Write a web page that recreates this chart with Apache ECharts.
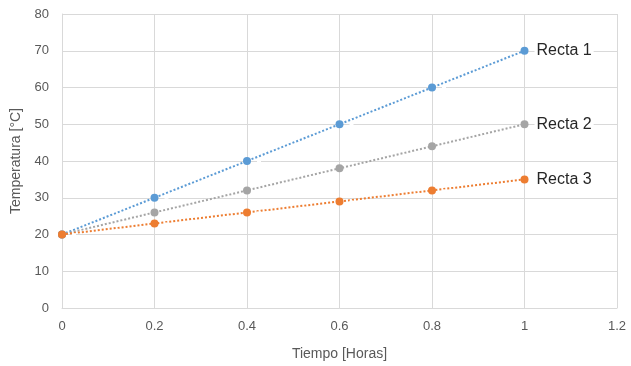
<!DOCTYPE html>
<html>
<head>
<meta charset="utf-8">
<script src="https://cdn.jsdelivr.net/npm/echarts@6/dist/echarts.min.js"></script>
<style>
  html, body { margin: 0; padding: 0; background: #fff; }
  #chart { width: 631px; height: 366px; }
</style>
</head>
<body>
<div id="chart"></div>
<script>
// Time in hours and temperature readings for each line
const tiempo = [0, 0.2, 0.4, 0.6, 0.8, 1];
const recta1 = [20, 30, 40, 50, 60, 70];
const recta2 = [20, 26, 32, 38, 44, 50];
const recta3 = [20, 23, 26, 29, 32, 35];
const seriesNames = ['Recta 1', 'Recta 2', 'Recta 3'];
const seriesColors = ['#5B9BD5', '#A5A5A5', '#ED7D31'];

const chart = echarts.init(document.getElementById('chart'));

function makeSeries(name, values, color) {
  const last = values.length - 1;
  return {
    name: name,
    type: 'line',
    data: values.map((v, i) => [tiempo[i], v]),
    symbol: 'circle',
    symbolSize: 8,
    itemStyle: { color: color },
    lineStyle: { color: color, width: 2, type: [2, 2] },
    z: 3,
    label: {
      show: true,
      position: 'right',
      distance: 6,
      formatter: (p) => (p.dataIndex === last ? name : ''),
      color: '#262626',
      fontFamily: '"Liberation Sans", Arial, sans-serif',
      fontSize: 16,
      backgroundColor: '#fff',
      padding: [1, 2]
    }
  };
}

chart.setOption({
  animation: false,
  textStyle: { fontFamily: '"Liberation Sans", Arial, sans-serif' },
  grid: { left: 62, right: 14, top: 14, bottom: 57, containLabel: false },
  xAxis: {
    type: 'value',
    min: 0,
    max: 1.2,
    interval: 0.2,
    name: 'Tiempo [Horas]',
    nameLocation: 'middle',
    nameGap: 39,
    nameTextStyle: { color: '#595959', fontSize: 14 },
    axisLine: { show: true, lineStyle: { color: '#D9D9D9' } },
    axisTick: { show: false },
    axisLabel: { color: '#595959', fontSize: 13, margin: 12 },
    splitLine: { show: true, lineStyle: { color: '#D9D9D9', width: 1 } }
  },
  yAxis: {
    type: 'value',
    min: 0,
    max: 80,
    interval: 10,
    name: 'Temperatura [°C]',
    nameLocation: 'middle',
    nameGap: 37,
    nameTextStyle: { color: '#595959', fontSize: 14 },
    axisLine: { show: true, lineStyle: { color: '#D9D9D9' } },
    axisTick: { show: false },
    axisLabel: { color: '#595959', fontSize: 13, margin: 13 },
    splitLine: { show: true, lineStyle: { color: '#D9D9D9', width: 1 } }
  },
  series: [
    makeSeries(seriesNames[0], recta1, seriesColors[0]),
    makeSeries(seriesNames[1], recta2, seriesColors[1]),
    makeSeries(seriesNames[2], recta3, seriesColors[2])
  ]
});
</script>
</body>
</html>
